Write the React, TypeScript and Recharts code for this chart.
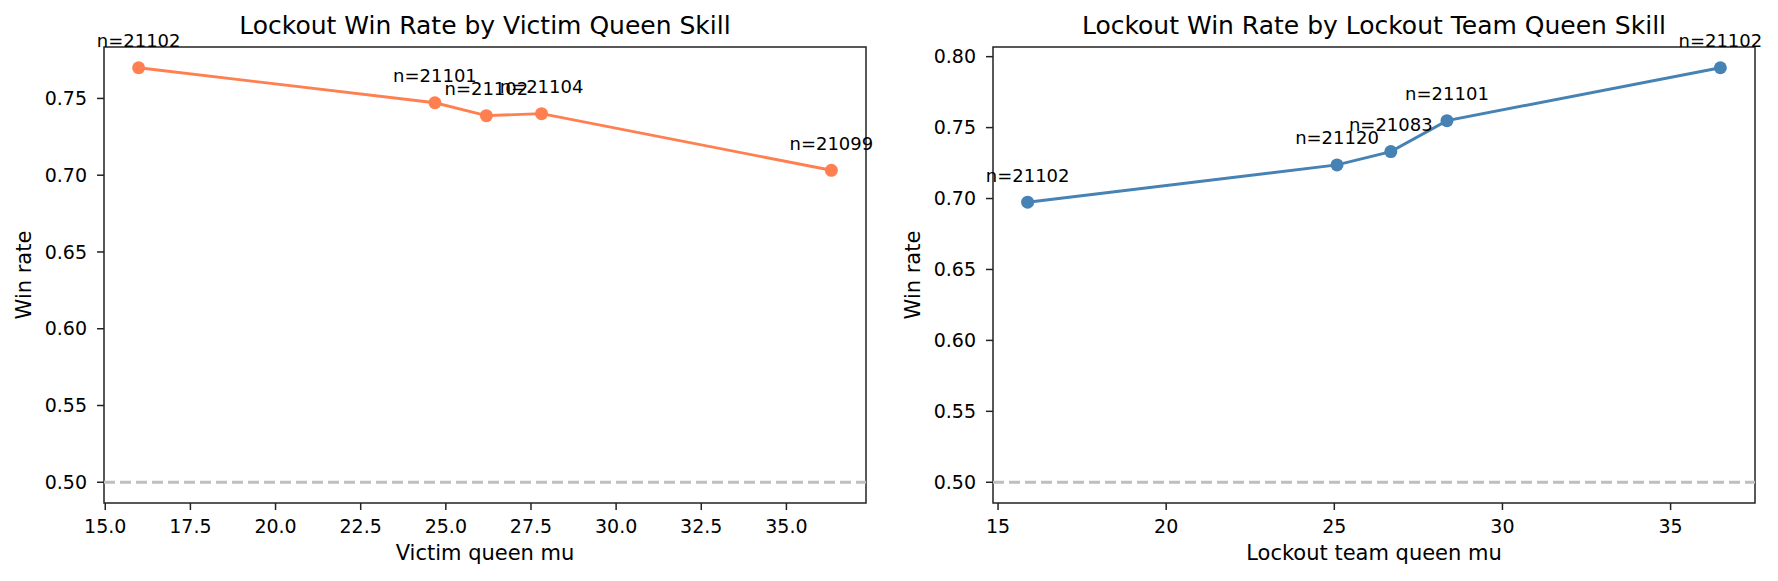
import { LineChart, Line, XAxis, YAxis, ReferenceLine, ReferenceArea, LabelList } from 'recharts'

// victim queen skill buckets
const victimMu = [15.98, 24.68, 26.19, 27.81, 36.32]
const victimWinRate = [0.77, 0.7472, 0.7388, 0.7401, 0.7032]
const victimN = [21102, 21101, 21102, 21104, 21099]

// lockout team queen skill buckets
const lockoutMu = [15.88, 25.08, 26.68, 28.35, 36.48]
const lockoutWinRate = [0.6974, 0.7237, 0.7331, 0.7549, 0.7922]
const lockoutN = [21102, 21120, 21083, 21101, 21102]

const victimXTicks = [15, 17.5, 20, 22.5, 25, 27.5, 30, 32.5, 35]
const lockoutXTicks = [15, 20, 25, 30, 35]
const victimYTicks = [0.5, 0.55, 0.6, 0.65, 0.7, 0.75]
const lockoutYTicks = [0.5, 0.55, 0.6, 0.65, 0.7, 0.75, 0.8]

const FONT = 'DejaVu Sans, sans-serif'

// matplotlib-style 5% margins
function padDomain(values: number[]): [number, number] {
  const lo = Math.min(...values)
  const hi = Math.max(...values)
  const pad = (hi - lo) * 0.05
  return [lo - pad, hi + pad]
}

interface PanelProps {
  title: string
  xLabel: string
  mu: number[]
  winRate: number[]
  n: number[]
  color: string
  xTicks: number[]
  yTicks: number[]
  xDecimals: number
}

function Panel({ title, xLabel, mu, winRate, n, color, xTicks, yTicks, xDecimals }: PanelProps) {
  const data = mu.map((m, i) => ({ mu: m, rate: winRate[i], label: `n=${n[i]}` }))
  const xDomain = padDomain(mu)
  const yDomain = padDomain([...winRate, 0.5])
  const tickStyle = { fontSize: 19, fontFamily: FONT, fill: '#000' }

  return (
    <div style={{ position: 'relative', width: 889, height: 581 }}>
      <div
        style={{
          position: 'absolute',
          left: 0,
          top: 13,
          width: 970,
          textAlign: 'center',
          fontFamily: FONT,
          fontSize: 25,
          lineHeight: '25px',
          color: '#000',
          whiteSpace: 'nowrap',
        }}
      >
        {title}
      </div>
      <LineChart width={889} height={581} data={data} margin={{ top: 47, right: 23, bottom: 0, left: 0 }}>
        <XAxis
          dataKey="mu"
          type="number"
          domain={xDomain}
          allowDataOverflow
          ticks={xTicks}
          tickFormatter={(v: number) => v.toFixed(xDecimals)}
          axisLine={false}
          tickSize={7}
          tickMargin={10}
          tickLine={{ stroke: '#222', strokeWidth: 1.5 }}
          tick={tickStyle}
          height={78}
          label={() => (
            <text x={485} y={560} textAnchor="middle" fontSize={21} fontFamily={FONT} fill="#000">
              {xLabel}
            </text>
          )}
        />
        <YAxis
          type="number"
          domain={yDomain}
          allowDataOverflow
          ticks={yTicks}
          tickFormatter={(v: number) => v.toFixed(2)}
          axisLine={false}
          tickSize={7}
          tickMargin={10}
          tickLine={{ stroke: '#222', strokeWidth: 1.5 }}
          tick={tickStyle}
          width={104}
          label={() => (
            <text
              x={31}
              y={275}
              textAnchor="middle"
              fontSize={21}
              fontFamily={FONT}
              fill="#000"
              transform="rotate(-90 31 275)"
            >
              Win rate
            </text>
          )}
        />
        <ReferenceLine y={0.5} stroke="#bfbfbf" strokeWidth={2.8} strokeDasharray="11 5" />
        <Line
          dataKey="rate"
          stroke={color}
          strokeWidth={2.9}
          dot={{ r: 6.5, fill: color, stroke: color, strokeWidth: 0 }}
          activeDot={false}
          isAnimationActive={false}
        >
          <LabelList
            dataKey="label"
            content={(props: any) => (
              <text
                x={props.x}
                y={props.y - 20.5}
                textAnchor="middle"
                fontSize={18}
                fontFamily={FONT}
                fill="#000"
              >
                {props.value}
              </text>
            )}
          />
        </Line>
        <ReferenceArea
          x1={xDomain[0]}
          x2={xDomain[1]}
          y1={yDomain[0]}
          y2={yDomain[1]}
          fill="none"
          fillOpacity={0}
          stroke="#222"
          strokeWidth={1.5}
          ifOverflow="visible"
        />
      </LineChart>
    </div>
  )
}

export default function App() {
  return (
    <div
      style={{
        position: 'absolute',
        left: 0,
        top: 0,
        width: 1778,
        height: 581,
        background: '#fff',
        display: 'flex',
      }}
    >
      <Panel
        title="Lockout Win Rate by Victim Queen Skill"
        xLabel="Victim queen mu"
        mu={victimMu}
        winRate={victimWinRate}
        n={victimN}
        color="#FF7F50"
        xTicks={victimXTicks}
        yTicks={victimYTicks}
        xDecimals={1}
      />
      <Panel
        title="Lockout Win Rate by Lockout Team Queen Skill"
        xLabel="Lockout team queen mu"
        mu={lockoutMu}
        winRate={lockoutWinRate}
        n={lockoutN}
        color="#4682B4"
        xTicks={lockoutXTicks}
        yTicks={lockoutYTicks}
        xDecimals={0}
      />
    </div>
  )
}
